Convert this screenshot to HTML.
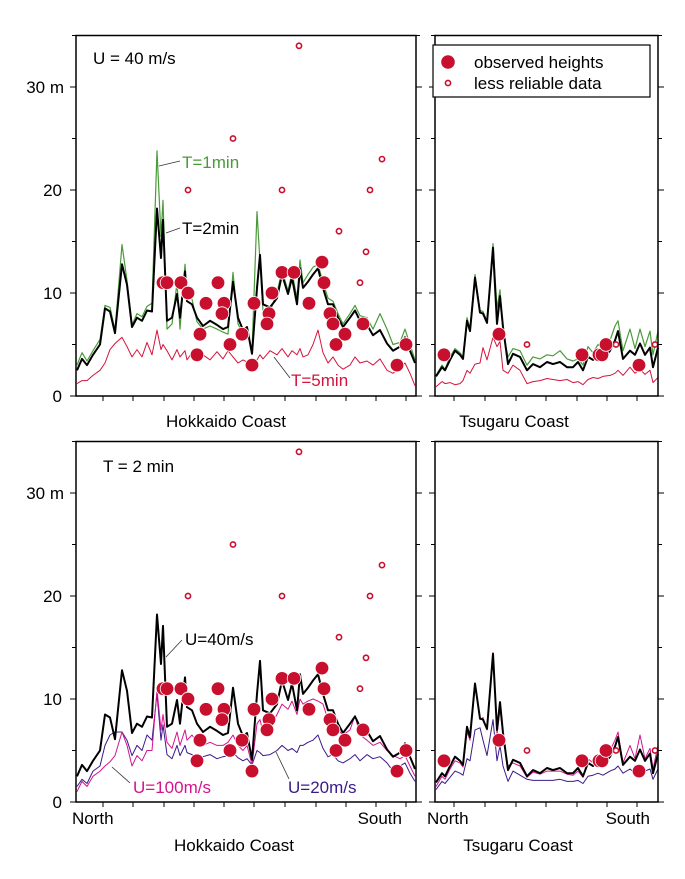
<!DOCTYPE html>
<html><head><meta charset="utf-8"><style>
html,body{margin:0;padding:0;background:#fff;}
svg{display:block;font-family:"Liberation Sans",Arial,sans-serif;}
</style></head><body>
<svg id="chart" width="685" height="879" viewBox="0 0 685 879" xmlns="http://www.w3.org/2000/svg"></svg>
<script>
// ---- data ----
const hkKm = [0,5,10,16,23,28,33,38,45,50,55,60,65,70,75,80,84,86,90,95,100,103,108,110,115,120,126,133,140,146,151,156,161,166,170,175,180,183,186,193,200,205,211,215,220,223,226,231,236,241,246,251,256,261,266,273,278,283,290,296,303,310,316,323,328,333,338];
const hkT2 = [2.5,3.6,3.0,4,5,8.5,8.2,6.1,12.8,10.8,6.7,7.6,7.3,8.3,8.2,18.2,13.4,17.1,7.3,7.6,9.9,7.6,12.1,9.2,8.9,7.6,6.8,7.3,6.9,6.5,6.7,11.1,7.6,6.4,6.7,4.1,10.5,13.7,8.9,8.6,9.5,11.8,9.9,11.5,8.9,12.4,10.5,11.1,11.8,12.4,10.5,8.9,8.9,7.6,6.7,7.6,8.3,7.3,6.9,5.9,6.4,5.1,4.4,4.8,5.7,4.4,3.2];
const hkT1 = [3.0,4.2,3.4,4.4,5.5,8.8,8.6,6.4,14.7,11.2,6.9,8.0,7.7,8.7,9.0,23.8,15.5,19.0,6.5,7.0,11.0,6.5,12.8,10.0,9.4,7.2,6.5,6.8,6.5,6.2,6.0,12.0,7.0,6.0,6.5,4.3,17.9,13.0,8.2,8.2,10.0,12.2,10.2,12.0,9.5,13.2,11.0,11.8,12.5,12.8,11.0,9.5,9.2,8.0,7.0,8.0,8.8,7.8,7.6,6.5,8.0,6.5,5.0,5.2,6.5,5.0,3.5];
const hkT5 = [1.2,1.5,1.5,2.0,2.5,3.2,4.5,5.1,5.7,4.8,3.8,4.5,3.8,5.2,4.0,6.4,4.5,5.0,4.4,3.5,4.5,3.8,4.4,3.5,4.2,3.8,4.0,3.5,4.3,3.6,4.4,3.8,3.2,3.5,3.3,3.2,3.5,4.0,3.6,4.4,4.0,4.6,3.8,4.4,4.0,4.6,3.8,4.0,5.0,6.4,4.2,3.2,3.8,3.0,2.6,3.0,3.8,3.2,3.4,3.0,3.6,2.5,2.2,2.8,3.2,2.2,1.0];
const hkU100 = [1.0,2.0,1.5,2.5,3.0,3.5,3.9,4.5,6.8,5.5,3.5,4.5,4.0,5.0,5.0,10.9,7.0,8.5,5.8,5.2,6.8,5.5,7.0,6.0,6.5,5.8,5.5,5.8,5.5,5.5,5.8,6.5,5.5,5.0,5.5,3.6,7.6,8.0,6.8,7.2,8.5,9.5,9.0,9.8,8.5,10.0,9.5,9.8,10.0,9.8,9.5,8.0,7.8,7.0,6.5,7.0,8.4,6.5,6.0,5.5,5.8,5.0,4.5,4.2,4.5,3.5,2.5];
const hkU20 = [1.5,2.2,1.8,3.0,3.5,5.5,6.5,6.8,6.8,6.0,4.5,5.5,5.0,6.5,6.0,10.5,6.0,7.5,4.6,4.2,5.5,4.5,5.5,4.8,4.6,4.2,4.4,4.6,4.2,4.4,4.5,4.8,4.3,4.0,4.2,3.6,5.0,4.8,4.5,4.6,5.0,5.5,5.0,5.2,4.8,5.5,5.5,5.8,6.0,6.5,5.2,4.4,4.6,4.0,3.8,4.2,4.6,4.0,4.6,4.2,4.4,3.8,3.0,3.5,3.8,2.8,2.0];
const hkObsKm = [86,90,104,111,141,129,147,145,123,120,153,165,175,177,192,190,195,205,217,232,245,247,253,256,268,259,286,329,320];
const hkObsH  = [11,11,11,10,11,9,9,8,6,4,5,6,3,9,8,7,10,12,12,9,13,11,8,7,6,5,7,5,3];
const hkLessKm = [156,111,205,305,293,262,289,283,222];
const hkLessH  = [25,20,20,23,20,16,14,11,34];

const tsKm = [0,6,9,14,19,24,27,31,34,39,44,47,51,57,61,64,67,72,77,84,91,97,104,111,117,124,131,137,142,147,152,157,162,167,174,179,182,187,194,199,204,209,214,217,222];
const tsT2 = [1.9,2.8,2.5,3.5,4.4,4.0,3.6,7.3,6.3,11.5,8.1,8.0,7.1,14.4,7.0,9.7,6.7,3.1,4.1,3.8,2.5,3.1,2.8,3.3,3.1,3.3,2.8,2.8,3.3,2.5,3.8,3.5,4.0,3.6,4.4,5.4,6.3,3.6,4.4,4.0,5.1,4.0,4.7,2.8,4.7];
const tsT1 = [2.0,3.0,2.6,3.8,4.6,4.2,3.8,7.6,6.5,11.8,8.3,8.2,7.3,14.8,8.5,10.3,6.2,3.8,4.6,4.4,3.0,3.8,3.6,4.0,3.9,4.4,3.6,3.4,3.6,3.0,4.8,4.2,5.0,4.5,5.4,6.8,7.3,4.4,6.5,4.6,6.5,4.8,6.3,4.0,6.3];
const tsT5 = [0.9,1.4,1.2,1.3,1.1,1.2,1.5,2.5,2.2,3.1,3.2,4.7,3.5,5.7,4.8,5.3,2.5,2.2,3.0,2.5,1.2,1.4,1.5,1.7,1.6,1.5,1.6,1.3,1.4,1.1,1.6,1.8,1.7,1.9,2.0,2.2,2.5,2.0,2.8,2.2,2.6,2.1,2.5,1.3,1.8];
const tsU100 = [1.5,2.5,2.2,3.2,4.0,3.8,3.4,6.8,6.0,11.5,8.0,8.2,7.0,14.5,6.5,9.0,6.5,3.5,3.8,3.5,2.4,2.9,2.7,3.0,3.0,3.0,2.7,2.6,3.0,2.4,4.2,3.8,4.6,4.0,5.0,6.0,6.8,3.8,5.5,4.2,6.5,4.2,5.2,3.2,5.5];
const tsU20 = [1.2,2.0,1.8,2.4,3.0,2.8,2.6,4.2,4.0,7.0,7.2,6.0,4.5,8.0,4.0,5.5,3.5,2.0,3.0,2.6,2.2,2.1,2.1,2.1,2.1,2.2,2.0,2.0,2.1,1.8,2.5,2.6,2.8,2.6,3.0,3.2,3.5,2.8,3.2,2.8,3.4,3.0,3.2,2.2,3.2];
const tsObsKm = [8,63,146,163,166,170,203];
const tsObsH  = [4,6,4,4,4,5,3];
const tsLessKm = [91,180,219];
const tsLessH  = [5,5,5];
const yTicks = [0,10,20,30];

// ---- drawing ----
const NS = "http://www.w3.org/2000/svg";
const svg = document.getElementById('chart');
function mk(tag, attrs, parent){
  const e = document.createElementNS(NS, tag);
  for (const k in attrs) e.setAttribute(k, attrs[k]);
  (parent||svg).appendChild(e);
  return e;
}
const PX_PER_M = 10.3;
function yScale(y0){ return v => y0 - v*PX_PER_M; }
function xScale(x0){ return km => x0 + km; }

function drawPanel(p){
  const g = mk('g', {});
  
  
  const X = xScale(p.x0), Y = yScale(p.y0);
  const top = Y(35);
  // ticks
  for (let v=0; v<=35; v+=5){
    const len = v%10===0 ? 6 : 4;
    mk('line',{x1:p.left-len,y1:Y(v),x2:p.left,y2:Y(v),stroke:'#000','stroke-width':1},g);
    mk('line',{x1:p.right,y1:Y(v),x2:p.right+len,y2:Y(v),stroke:'#000','stroke-width':1},g);
  }
  p.xticks.forEach(t=>{
    mk('line',{x1:t,y1:p.y0,x2:t,y2:p.y0+5,stroke:'#000','stroke-width':1},g);
  });
  if (p.ylabels){
    yTicks.forEach(v=>{
      const t = mk('text',{x:v===30?64:62,y:Y(v)+6,'text-anchor':'end','font-size':17},g);
      t.textContent = v===30 ? '30 m' : String(v);
      
      
    });
  }
  // series
  p.series.forEach(s=>{
    const d = s.vals.map((v,i)=>(i?'L':'M')+X(p.km[i]).toFixed(1)+','+Y(v).toFixed(1)).join(' ');
    const path = mk('path',{d:d,fill:'none',stroke:s.color,'stroke-width':s.w,'stroke-linejoin':'round'},g);
    
    
  });
  // observations
  p.lessKm.forEach((k,i)=>{
    const c = mk('circle',{cx:X(k),cy:Y(p.lessH[i]),r:2.6,fill:'#fff',stroke:'#c8102e','stroke-width':1.6},g);
    
    
  });
  p.obsKm.forEach((k,i)=>{
    const c = mk('circle',{cx:X(k),cy:Y(p.obsH[i]),r:6.8,fill:'#c8102e',stroke:'#fff','stroke-width':0.8},g);
    
    
  });
  const fr = mk('rect',{x:p.left,y:top,width:p.right-p.left,height:p.y0-top,fill:'none',stroke:'#000','stroke-width':1.5},g);
  
  
}
const hkTicks=[103,133,164,194,224,254,285,316,346,376,406];
const tsTicks=[454,485,516,546,577,607,637];
drawPanel({name:'hokkaido-top-panel',x0:77,y0:396,left:76,right:416,km:hkKm,xticks:hkTicks,ylabels:true,
  series:[{name:'t5-line',vals:hkT5,color:'#d4143c',w:1},{name:'t1-line',vals:hkT1,color:'#4a9a3a',w:1.2},{name:'t2-line',vals:hkT2,color:'#000',w:2}],
  obsKm:hkObsKm,obsH:hkObsH,lessKm:hkLessKm,lessH:hkLessH});
drawPanel({name:'tsugaru-top-panel',x0:436,y0:396,left:435,right:658,km:tsKm,xticks:tsTicks,ylabels:false,
  series:[{name:'t5-line',vals:tsT5,color:'#d4143c',w:1},{name:'t1-line',vals:tsT1,color:'#4a9a3a',w:1.2},{name:'t2-line',vals:tsT2,color:'#000',w:2}],
  obsKm:tsObsKm,obsH:tsObsH,lessKm:tsLessKm,lessH:tsLessH});
drawPanel({name:'hokkaido-bottom-panel',x0:77,y0:802,left:76,right:416,km:hkKm,xticks:hkTicks,ylabels:true,
  series:[{name:'u20-line',vals:hkU20,color:'#3a1a8a',w:1},{name:'u100-line',vals:hkU100,color:'#d4148c',w:1},{name:'u40-line',vals:hkT2,color:'#000',w:2}],
  obsKm:hkObsKm,obsH:hkObsH,lessKm:hkLessKm,lessH:hkLessH});
drawPanel({name:'tsugaru-bottom-panel',x0:436,y0:802,left:435,right:658,km:tsKm,xticks:tsTicks,ylabels:false,
  series:[{name:'u20-line',vals:tsU20,color:'#3a1a8a',w:1},{name:'u100-line',vals:tsU100,color:'#d4148c',w:1},{name:'u40-line',vals:tsT2,color:'#000',w:2}],
  obsKm:tsObsKm,obsH:tsObsH,lessKm:tsLessKm,lessH:tsLessH});
</script>
<svg width="685" height="879" style="position:absolute;left:0;top:0" xmlns="http://www.w3.org/2000/svg" font-family="Liberation Sans, Arial, sans-serif">
  <rect x="433" y="45" width="217" height="52" fill="#fff" stroke="#000" stroke-width="1.2"/>
  <circle cx="448" cy="62" r="6.8" fill="#c8102e"/>
  <text x="474" y="68" font-size="17">observed heights</text>
  <circle cx="448" cy="83" r="2.6" fill="#fff" stroke="#c8102e" stroke-width="1.6"/>
  <text x="474" y="89" font-size="17">less reliable data</text>

  <text x="93" y="64" font-size="17">U = 40 m/s</text>
  <text x="103" y="472" font-size="17">T = 2 min</text>

  <line x1="159" y1="166" x2="180" y2="161" stroke="#333" stroke-width="0.8"/>
  <text x="182" y="168" font-size="17" fill="#4a9a3a">T=1min</text>
  <line x1="166" y1="233" x2="180" y2="228" stroke="#333" stroke-width="0.8"/>
  <text x="182" y="234" font-size="17" fill="#000">T=2min</text>
  <line x1="274" y1="357" x2="290" y2="378" stroke="#333" stroke-width="0.8"/>
  <text x="291" y="386" font-size="17" fill="#d4143c">T=5min</text>

  <line x1="166" y1="657" x2="182" y2="640" stroke="#333" stroke-width="0.8"/>
  <text x="185" y="645" font-size="17" fill="#000">U=40m/s</text>
  <line x1="112" y1="767" x2="130" y2="783" stroke="#333" stroke-width="0.8"/>
  <text x="133" y="793" font-size="17" fill="#d4148c">U=100m/s</text>
  <line x1="276" y1="752" x2="289" y2="779" stroke="#333" stroke-width="0.8"/>
  <text x="288" y="793" font-size="17" fill="#3a1a8a">U=20m/s</text>

  <text x="226" y="427" font-size="17" text-anchor="middle">Hokkaido Coast</text>
  <text x="514" y="427" font-size="17" text-anchor="middle">Tsugaru Coast</text>
  <text x="72" y="824" font-size="17">North</text>
  <text x="402" y="824" font-size="17" text-anchor="end">South</text>
  <text x="234" y="851" font-size="17" text-anchor="middle">Hokkaido Coast</text>
  <text x="427" y="824" font-size="17">North</text>
  <text x="650" y="824" font-size="17" text-anchor="end">South</text>
  <text x="518" y="851" font-size="17" text-anchor="middle">Tsugaru Coast</text>
</svg>
</body></html>
